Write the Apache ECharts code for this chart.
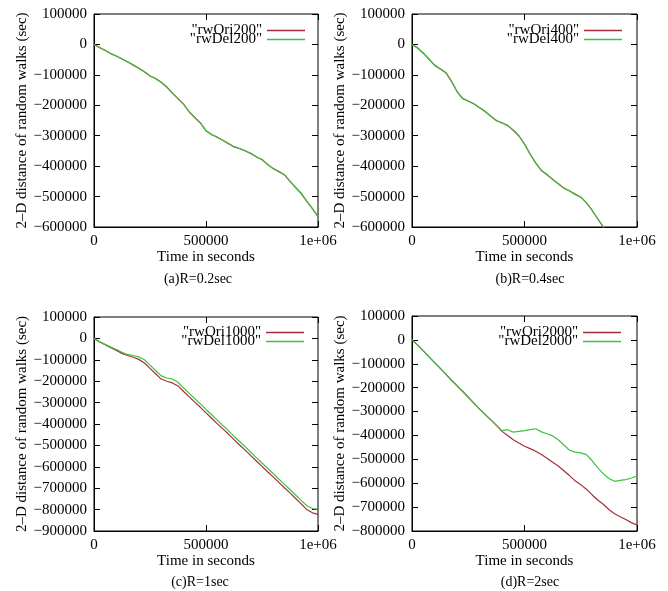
<!DOCTYPE html>
<html><head><meta charset="utf-8">
<script src="https://cdn.jsdelivr.net/npm/echarts@6/dist/echarts.min.js"></script>
<style>html,body{margin:0;padding:0;background:#fff}#c{width:668px;height:591px}</style>
</head><body><div id="c"></div>
<script>
// ---- data ----
const xValues = [0,25000,50000,75000,100000,125000,150000,175000,200000,225000,250000,275000,300000,325000,350000,375000,400000,425000,450000,475000,500000,525000,550000,575000,600000,625000,650000,675000,700000,725000,750000,775000,800000,825000,850000,875000,900000,925000,950000,975000,1000000];
const xTickLabels = ['0','500000','1e+06'];
const yAxisTitle = '2–D distance of random walks (sec)';
const xAxisTitle = 'Time in seconds';
const captions = ['(a)R=0.2sec','(b)R=0.4sec','(c)R=1sec','(d)R=2sec'];
const seriesNames = [['"rwOri200"','"rwDel200"'],['"rwOri400"','"rwDel400"'],['"rwOri1000"','"rwDel1000"'],['"rwOri2000"','"rwDel2000"']];

const oriA = [0,-10000,-20000,-30000,-38000,-48000,-57000,-68000,-78000,-90000,-104000,-112000,-124000,-140000,-160000,-178000,-196000,-222000,-240000,-258000,-284000,-296000,-305000,-315000,-326000,-336000,-342000,-350000,-358000,-370000,-378000,-395000,-408000,-418000,-428000,-450000,-470000,-490000,-515000,-540000,-565000];
const delA = [0,-11000,-19000,-31000,-39000,-47000,-58000,-67000,-79000,-91000,-103000,-113000,-125000,-141000,-159000,-179000,-197000,-221000,-241000,-259000,-283000,-297000,-304000,-316000,-325000,-337000,-343000,-349000,-359000,-369000,-379000,-394000,-409000,-417000,-429000,-449000,-471000,-489000,-516000,-539000,-566000];
const oriB = [0,-12000,-28000,-48000,-68000,-80000,-92000,-120000,-155000,-178000,-186000,-195000,-208000,-220000,-236000,-250000,-258000,-266000,-282000,-300000,-328000,-360000,-390000,-414000,-428000,-443000,-458000,-472000,-482000,-492000,-502000,-520000,-545000,-572000,-600000,-632000,-662000];
const delB = [0,-11000,-29000,-47000,-69000,-81000,-93000,-121000,-154000,-177000,-187000,-196000,-207000,-221000,-235000,-251000,-257000,-267000,-281000,-301000,-327000,-361000,-389000,-415000,-427000,-444000,-457000,-473000,-481000,-493000,-501000,-521000,-544000,-573000,-599000,-633000,-661000];
const oriC = [0,-17000,-30000,-44000,-56000,-70000,-80000,-88000,-98000,-115000,-140000,-165000,-190000,-200000,-208000,-222000,-248000,-273000,-298000,-322000,-348000,-373000,-398000,-423000,-447000,-473000,-498000,-522000,-548000,-573000,-598000,-623000,-647000,-673000,-698000,-722000,-748000,-773000,-800000,-815000,-822000];
const delC = [0,-15000,-28000,-40000,-52000,-65000,-75000,-80000,-86000,-100000,-125000,-150000,-175000,-185000,-190000,-205000,-232000,-257000,-282000,-306000,-332000,-357000,-382000,-407000,-431000,-457000,-482000,-506000,-532000,-557000,-582000,-607000,-631000,-657000,-682000,-706000,-732000,-757000,-782000,-795000,-798000];
const oriD = [0,-22000,-46000,-70000,-95000,-118000,-143000,-168000,-192000,-215000,-240000,-265000,-290000,-312000,-335000,-358000,-383000,-400000,-418000,-432000,-445000,-455000,-466000,-480000,-495000,-512000,-528000,-548000,-568000,-590000,-606000,-625000,-648000,-670000,-688000,-710000,-728000,-740000,-752000,-765000,-775000];
const delD = [0,-21000,-45000,-71000,-94000,-119000,-142000,-169000,-191000,-216000,-239000,-266000,-289000,-313000,-334000,-357000,-380000,-376000,-386000,-383000,-380000,-376000,-372000,-385000,-393000,-402000,-418000,-440000,-462000,-470000,-473000,-480000,-505000,-535000,-560000,-580000,-592000,-588000,-585000,-578000,-570000];
const yMins = [-600000,-600000,-900000,-800000];
const yMax = 100000;

// ---- layout ----
const FONT = 'Liberation Serif';
const RED = '#a32e38', GREEN = '#3ec23e';
const grids = [
  {left:94, top:14, width:224, height:213},
  {left:412, top:14, width:225, height:213},
  {left:94, top:317, width:224, height:214},
  {left:412, top:316, width:225, height:215}
];
const legendPos = [{right:363, top:23},{right:46, top:23},{right:364, top:325},{right:47, top:325}];
const capPos = [[198,279],[530,279],[200,582],[530,582]];
const oriData = [oriA, oriB, oriC, oriD];
const delData = [delA, delB, delC, delD];

function yFmt(v){ return v === 0 ? '0' : (v < 0 ? '−' + (-v) : String(v)); }
function xFmt(v){ return xTickLabels[Math.round(v/500000)]; }

const xAxes = [], yAxes = [], series = [], legends = [], graphics = [];
grids.forEach((g, i) => {
  g.show = true; g.borderColor = '#000'; g.borderWidth = 1; g.containLabel = false;
  xAxes.push({type:'value', gridIndex:i, min:0, max:1000000, interval:500000, position:'bottom',
    name:xAxisTitle, nameLocation:'middle', nameGap:22,
    nameTextStyle:{fontFamily:FONT, fontSize:15, color:'#000'},
    axisLine:{show:true, onZero:false, lineStyle:{color:'#000', width:1}},
    axisTick:{inside:true, length:6, lineStyle:{color:'#000'}},
    axisLabel:{fontFamily:FONT, fontSize:15, color:'#000', margin:7, formatter:xFmt},
    splitLine:{show:false}});
  xAxes.push({type:'value', gridIndex:i, min:0, max:1000000, interval:500000, position:'top',
    axisLine:{show:false, onZero:false}, axisTick:{inside:true, length:6, lineStyle:{color:'#000'}},
    axisLabel:{show:false}, splitLine:{show:false}});
  yAxes.push({type:'value', gridIndex:i, min:yMins[i], max:yMax, interval:100000, position:'left',
    name:yAxisTitle, nameLocation:'middle', nameGap:64, nameRotate:90,
    nameTextStyle:{fontFamily:FONT, fontSize:15, color:'#000'},
    axisLine:{show:true, onZero:false, lineStyle:{color:'#000', width:1}},
    axisTick:{inside:true, length:6, lineStyle:{color:'#000'}},
    axisLabel:{fontFamily:FONT, fontSize:15, color:'#000', margin:7, formatter:yFmt},
    splitLine:{show:false}});
  yAxes.push({type:'value', gridIndex:i, min:yMins[i], max:yMax, interval:100000, position:'right',
    axisLine:{show:false, onZero:false}, axisTick:{inside:true, length:6, lineStyle:{color:'#000'}},
    axisLabel:{show:false}, splitLine:{show:false}});
  const ori = oriData[i], del = delData[i];
  series.push({type:'line', name:seriesNames[i][0], xAxisIndex:2*i, yAxisIndex:2*i,
    data: ori.map((v, k) => [xValues[k], v]), showSymbol:false, symbol:'none',
    lineStyle:{color:RED, width:1.2}, itemStyle:{color:RED}, clip:true, animation:false});
  series.push({type:'line', name:seriesNames[i][1], xAxisIndex:2*i, yAxisIndex:2*i,
    data: del.map((v, k) => [xValues[k], v]), showSymbol:false, symbol:'none',
    lineStyle:{color:GREEN, width:1.2}, itemStyle:{color:GREEN}, clip:true, animation:false});
  legends.push(Object.assign({data:seriesNames[i], orient:'vertical', align:'right', icon:'rect',
    itemWidth:38, itemHeight:1.5, itemGap:-6, padding:0, selectedMode:false,
    textStyle:{fontFamily:FONT, fontSize:15, color:'#000', lineHeight:12}}, legendPos[i]));
  graphics.push({type:'text', x:capPos[i][0], y:capPos[i][1],
    style:{text:captions[i], textAlign:'center', textVerticalAlign:'middle', font:'14px "Liberation Serif"', fill:'#000'}});
});

const chart = echarts.init(document.getElementById('c'), null, {renderer:'canvas'});
chart.setOption({animation:false, backgroundColor:'#fff', grid:grids, xAxis:xAxes, yAxis:yAxes,
  series:series, legend:legends, graphic:graphics});
</script>
</body></html>
